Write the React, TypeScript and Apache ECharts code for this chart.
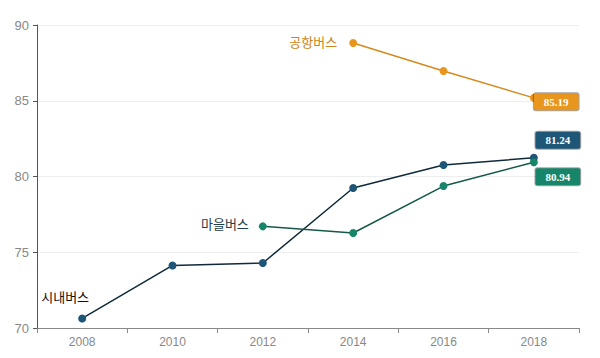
import React, { useEffect, useRef } from "react";
import * as echarts from "echarts";

const years = ["2008", "2010", "2012", "2014", "2016", "2018"];
const cityBus = [70.63, 74.13, 74.29, 79.24, 80.76, 81.24];
const villageBus = [null, null, 76.71, 76.27, 79.37, 80.94];
const airportBus = [null, null, null, 88.81, 86.96, 85.19];
const seriesNames = ["시내버스", "마을버스", "공항버스"];

const C_CITY = "#1d5677";
const C_VILLAGE = "#178569";
const C_AIR = "#e9961f";

function build(values: (number | null)[], name: string, color: string, startLabel: any, endLabel: any, lineColor: string) {
  const firstIdx = values.findIndex((v) => v !== null);
  const lastIdx = values.length - 1;
  const data = values.map((v, i) => {
    if (v === null) return null;
    if (i === firstIdx) {
      return { value: v, label: { show: true, formatter: name, ...startLabel } };
    }
    if (i === lastIdx) {
      return {
        value: v,
        label: {
          show: true,
          formatter: (p: any) => p.value.toFixed(2),
          color: "#fff",
          fontFamily: "Liberation Serif",
          fontWeight: "bold",
          fontSize: 11,
          backgroundColor: color,
          borderColor: "rgba(0,0,0,0.35)",
          borderWidth: 1,
          borderRadius: 2,
          padding: [3, 10, 3, 10],
          ...endLabel,
        },
      };
    }
    return v;
  });
  return {
    type: "line",
    name,
    data,
    symbol: "circle",
    symbolSize: 8,
    itemStyle: { color },
    lineStyle: { color: lineColor, width: 1.5 },
    connectNulls: false,
  };
}

export default function App() {
  const ref = useRef<HTMLDivElement>(null);
  useEffect(() => {
    const chart = echarts.init(ref.current!, null, { renderer: "svg" });
    const nameFont = { fontSize: 13, fontFamily: "Noto Sans CJK KR" };
    chart.setOption({
      animation: false,
      grid: { left: 37, right: 21, top: 25, bottom: 30 },
      xAxis: {
        type: "category",
        data: years,
        boundaryGap: true,
        axisLine: { lineStyle: { color: "#888" } },
        axisTick: { show: true, lineStyle: { color: "#888" }, length: 5 },
        axisLabel: { color: "#888", fontSize: 12, fontFamily: "Liberation Sans", margin: 8 },
      },
      yAxis: {
        type: "value",
        min: 70,
        max: 90,
        interval: 5,
        axisLine: { show: true, lineStyle: { color: "#555" } },
        axisTick: { show: true, lineStyle: { color: "#555" }, length: 4 },
        axisLabel: { color: "#888", fontSize: 13, fontFamily: "Liberation Sans", margin: 8 },
        splitLine: { lineStyle: { color: "#eeeeee" } },
      },
      series: [
        build(cityBus, seriesNames[0], C_CITY,
          { position: "top", offset: [-17, -6], color: "#111111", ...nameFont },
          { position: "top", offset: [24, 0] }, "#0f2a3a"),
        build(villageBus, seriesNames[1], C_VILLAGE,
          { position: "left", distance: 10, offset: [0, -3], color: "#1e3d44", ...nameFont },
          { position: "bottom", offset: [24, -3] }, "#14594a"),
        build(airportBus, seriesNames[2], C_AIR,
          { position: "left", distance: 12, offset: [0, -2], color: "#c9861a", ...nameFont },
          { position: "right", offset: [-4, 4], distance: 0 }, "#d48a1c"),
      ],
    });
    return () => chart.dispose();
  }, []);
  return <div ref={ref} style={{ width: 600, height: 358, position: "absolute", left: 0, top: 0 }} />;
}
